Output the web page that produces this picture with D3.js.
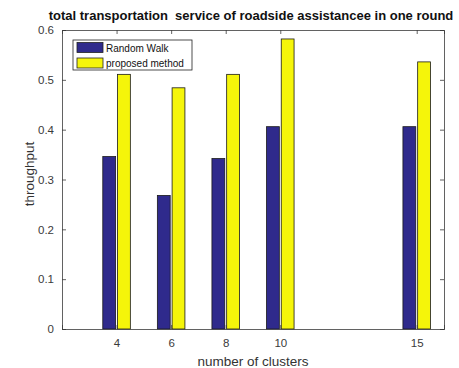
<!DOCTYPE html>
<html>
<head>
<meta charset="utf-8">
<script src="https://cdn.jsdelivr.net/npm/d3@7"></script>
<style>
  html, body { margin: 0; padding: 0; background: #fff; }
  svg { display: block; font-family: Arial, "Liberation Sans", Helvetica, sans-serif; }
</style>
</head>
<body>
<svg id="chart" width="459" height="368"></svg>
<script>
// Cluster counts on the x axis
const clusters = [4, 6, 8, 10, 15];
// Throughput for each method
const randomWalk = [0.346, 0.268, 0.342, 0.406, 0.406];
const proposed = [0.511, 0.484, 0.511, 0.582, 0.536];
const seriesNames = ["Random Walk", "proposed method"];
const seriesColors = ["#2f2a8c", "#f5f50a"];
const yTicks = [0, 0.1, 0.2, 0.3, 0.4, 0.5, 0.6];

const svg = d3.select("#chart");
const plotLeft = 62, plotRight = 444, plotTop = 30, plotBottom = 329;

const x = d3.scaleLinear().domain([2, 16]).range([plotLeft, plotRight]);
const y = d3.scaleLinear().domain([0, 0.6]).range([plotBottom, plotTop]);

const axisColor = "#3a3a3a";
const barW = 0.47;      // bar width in cluster units
const offset = 0.27;    // half-distance between the two bars of a group

// Bars
const series = [randomWalk, proposed];
series.forEach((vals, si) => {
  svg.append("g").selectAll("rect")
    .data(clusters.map((c, i) => ({ c, v: vals[i] })))
    .join("rect")
    .attr("x", d => x(d.c + (si === 0 ? -offset : offset) - barW / 2))
    .attr("width", d => x(d.c + barW) - x(d.c))
    .attr("y", d => y(d.v))
    .attr("height", d => y(0) - y(d.v))
    .attr("fill", seriesColors[si])
    .attr("stroke", "#1a1a1a")
    .attr("stroke-width", 0.8);
});

// Axes (ticks point inward, box on all sides)
const fmt = d => d === 0 ? "0" : d3.format(".1f")(d);
const gx = svg.append("g").attr("transform", `translate(0,${plotBottom})`)
  .call(d3.axisBottom(x).tickValues(clusters).tickSize(-4).tickPadding(10));
const gxTop = svg.append("g").attr("transform", `translate(0,${plotTop})`)
  .call(d3.axisTop(x).tickValues(clusters).tickSize(-4).tickFormat(""));
const gy = svg.append("g").attr("transform", `translate(${plotLeft},0)`)
  .call(d3.axisLeft(y).tickValues(yTicks).tickFormat(fmt).tickSize(-4).tickPadding(8));
const gyRight = svg.append("g").attr("transform", `translate(${plotRight},0)`)
  .call(d3.axisRight(y).tickValues(yTicks).tickFormat("").tickSize(-4));

[gx, gxTop, gy, gyRight].forEach(g => {
  g.select(".domain").attr("stroke", axisColor).attr("stroke-width", 0.8);
  g.selectAll(".tick line").attr("stroke", axisColor).attr("stroke-width", 0.8);
  g.selectAll(".tick text").attr("fill", "#3a3a3a").attr("font-size", 11.5)
    .attr("font-family", "Arial, 'Liberation Sans', sans-serif");
});

// Titles
svg.append("text")
  .attr("x", 251).attr("y", 20)
  .attr("text-anchor", "middle")
  .attr("font-size", 13).attr("font-weight", "bold").attr("fill", "#111")
  .style("white-space", "pre")
  .text("total transportation  service of roadside assistancee in one round");

svg.append("text")
  .attr("x", 253).attr("y", 366)
  .attr("text-anchor", "middle")
  .attr("font-size", 13.5).attr("fill", "#333")
  .text("number of clusters");

svg.append("text")
  .attr("transform", `translate(34,174) rotate(-90)`)
  .attr("text-anchor", "middle")
  .attr("font-size", 13.5).attr("fill", "#333")
  .text("throughput");

// Legend
const lg = svg.append("g").attr("transform", "translate(73,40)");
lg.append("rect").attr("width", 119).attr("height", 30)
  .attr("fill", "#fff").attr("stroke", "#222").attr("stroke-width", 0.8);
seriesNames.forEach((name, i) => {
  const row = lg.append("g").attr("transform", `translate(4,${2.5 + i * 15.5})`);
  row.append("rect").attr("width", 26).attr("height", 10)
    .attr("fill", seriesColors[i]).attr("stroke", "#222").attr("stroke-width", 0.8);
  row.append("text").attr("x", 29).attr("y", 9)
    .attr("font-size", 10).attr("fill", "#111").text(name);
});
</script>
</body>
</html>
